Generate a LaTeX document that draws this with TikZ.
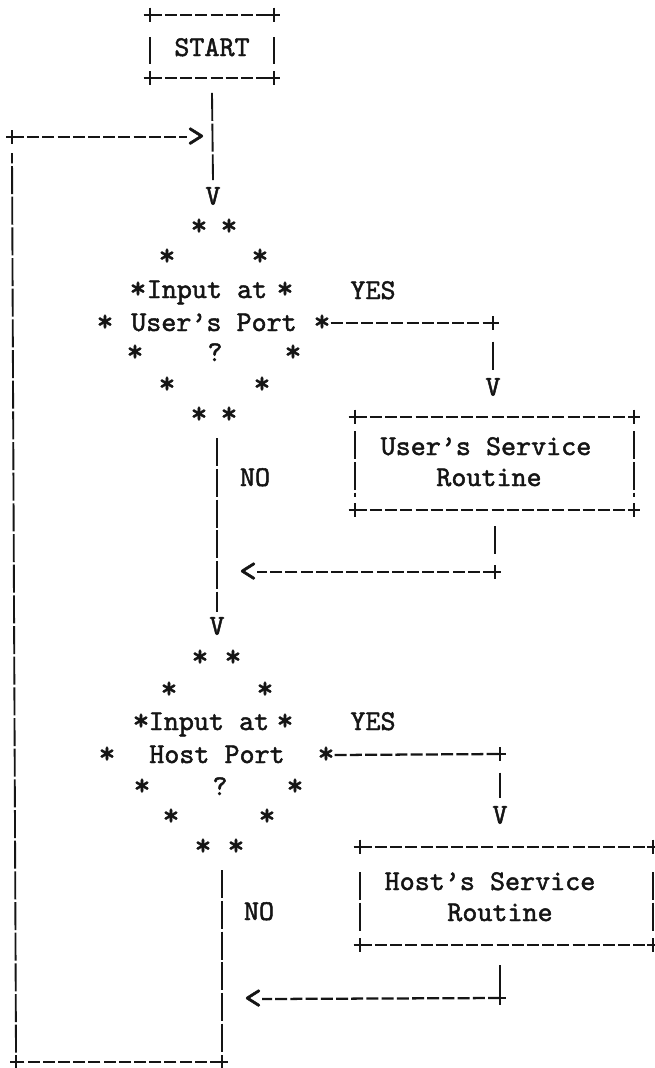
\documentclass[tikz,border=0pt]{standalone}
\usepackage{fontspec}
\newfontfamily\twfont{lmmono10-regular.otf}[FakeBold=1.6]
\usetikzlibrary{calc}
\definecolor{ink}{HTML}{151515}
\tikzset{
  tw/.style={font=\twfont\fontsize{21.5}{21.5}\selectfont, inner sep=0pt, text=ink, anchor=base},
  twc/.style={tw, anchor=center},
  ast/.style={twc, font=\twfont\fontsize{24}{24}\selectfont},
  arw/.style={twc, font=\twfont\fontsize{25}{25}\selectfont},
  hl/.style={draw=ink, line width=1.7pt, dash pattern=on 9pt off 2.4pt},
  vl/.style={draw=ink, line width=1.4pt, dash pattern=on 21pt off 2pt},
  sl/.style={draw=ink, line width=1.6pt},
  boxshape/.style={rectangle, inner sep=0pt, draw=none},
  plus/.pic={\draw[sl] (-6,0) -- (6,0) (0,-7) -- (0,7);},
}
\newcommand\twbox[3]{%
  \draw[hl] (#1.north west) -- (#1.north east);
  \draw[hl] (#1.south west) -- (#1.south east);
  \pic at (#1.north west) {plus};
  \pic at (#1.north east) {plus};
  \pic at (#1.south west) {plus};
  \pic at (#1.south east) {plus};
  \draw[vl] ([yshift=-#2]#1.north west) -- ([yshift=#3]#1.south west);
  \draw[vl] ([yshift=-#2]#1.north east) -- ([yshift=#3]#1.south east);
}
\begin{document}
\begin{tikzpicture}[x=0.75pt,y=-0.75pt]
\fill[white] (0,0) rectangle (654,1068);
\useasboundingbox (0,0) rectangle (654,1068);

% START box
\node[boxshape, minimum width=93pt, minimum height=47.25pt] (start) at (212,46.5) {};
\node[tw] (starttxt) at (212,56) {START};
\twbox{start}{17pt}{11pt}

% entry arrow and loop return
\node[twc] (v1) at (213,196) {V};
\draw[vl] ([yshift=-11pt]start.south) -- ([yshift=5pt]v1.north);
\coordinate (loopTL) at (12,137);
\pic at (loopTL) {plus};
\node[arw] (gt) at (196,137) {>};
\draw[hl] (loopTL) -- (gt.west);

% decision 1
\foreach \n/\x/\y in {a/199/227, b/229/227, c/167/257, d/260/257, e/138/290, f/285/290,
  g/105/323, h/322/323, i/135/353, j/293/353, k/167/385, l/262/385, m/199/415, n/229/415}
  \node[ast] (d1\n) at (\x,\y) {*};
\node[tw] (d1t1) at (207,298) {Input at};
\node[tw] (d1t2) at (214,331) {User’s Port};
\node[tw] (d1t3) at (215,361) {?};
\node[tw] (yes1) at (373,299) {YES};

% yes branch 1
\coordinate (y1c) at (493,323);
\pic at (y1c) {plus};
\draw[hl] (d1h.east) -- (y1c);
\node[twc] (vy1) at (493,387) {V};
\draw[vl] ([yshift=-14pt]y1c) -- ([yshift=6pt]vy1.north);

% user's service routine
\node[boxshape, minimum width=209.25pt, minimum height=69.75pt] (ubox) at (494.5,463.5) {};
\twbox{ubox}{11pt}{10pt}
\node[tw] (ut1) at (486,455) {User’s Service};
\node[tw] (ut2) at (489,486) {Routine};

% return 1
\coordinate (r1c) at (495,572);
\pic at (r1c) {plus};
\draw[vl] ([yshift=-12pt]ubox.south -| r1c) -- ([yshift=12pt]r1c);
\node[arw] (lt1) at (248,572) {<};
\draw[hl] (r1c) -- (lt1.east);

% no branch 1
\node[twc] (v2) at (217,626) {V};
\draw[vl] ([yshift=-11pt]d1m.south -| v2.north) -- ([yshift=4pt]v2.north);
\node[tw] (no1) at (255,486) {NO};

% decision 2
\foreach \n/\x/\y in {a/200/658, b/233/658, c/169/690, d/265/690, e/141/722, f/285/722,
  g/107/755, h/326/755, i/142/787, j/295/787, k/171/817, l/267/817, m/203/847, n/236/847}
  \node[ast] (d2\n) at (\x,\y) {*};
\node[tw] (d2t1) at (209,730) {Input at};
\node[tw] (d2t2) at (217,763) {Host Port};
\node[tw] (d2t3) at (220,795) {?};
\node[tw] (yes2) at (373,730) {YES};

% yes branch 2
\coordinate (y2c) at (500,754);
\pic at (y2c) {plus};
\draw[hl] (d2h.east) -- (y2c);
\node[twc] (vy2) at (500,815) {V};
\draw[vl] ([yshift=-14pt]y2c) -- ([yshift=6pt]vy2.north);

% host's service routine
\node[boxshape, minimum width=219.75pt, minimum height=73.5pt] (hbox) at (506.5,896) {};
\twbox{hbox}{19pt}{10pt}
\node[tw] (ht1) at (490,890) {Host’s Service};
\node[tw] (ht2) at (500,921) {Routine};

% return 2
\coordinate (r2c) at (500,998);
\pic at (r2c) {plus};
\draw[vl] ([yshift=-15pt]hbox.south -| r2c) -- ([yshift=5pt]r2c);
\node[arw] (lt2) at (253,999) {<};
\draw[hl] (r2c) -- (lt2.east);

% no branch 2 and loop back
\node[tw] (no2) at (259,920) {NO};
\coordinate (botR) at (222,1062);
\coordinate (botL) at (16,1062);
\pic at (botR) {plus};
\pic at (botL) {plus};
\draw[vl] ([yshift=-11pt]d2m.south -| botR) -- ([yshift=7pt]botR);
\draw[hl] (botR) -- (botL);
\draw[vl] ([yshift=7pt]botL) -- ([yshift=-12pt]loopTL);
\end{tikzpicture}
\end{document}
